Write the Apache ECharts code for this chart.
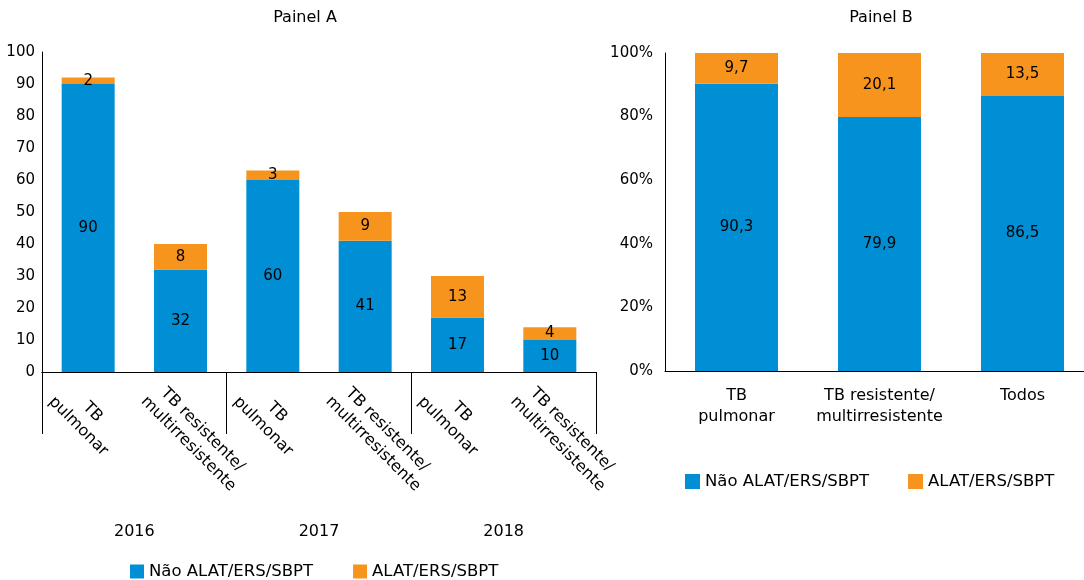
<!DOCTYPE html>
<html>
<head>
<meta charset="utf-8">
<script src="https://cdn.jsdelivr.net/npm/echarts@6/dist/echarts.min.js"></script>
<style>
html,body{margin:0;padding:0;background:#fff;overflow:hidden;}
#c{width:1100px;height:580px;}
</style>
</head>
<body>
<div id="c"></div>
<script>
// Panel A data
const catsA = ['TB\npulmonar', 'TB resistente/\nmultirresistente', 'TB\npulmonar', 'TB resistente/\nmultirresistente', 'TB\npulmonar', 'TB resistente/\nmultirresistente'];
const yearsA = ['2016', '2017', '2018'];
const naoA = [90, 32, 60, 41, 17, 10];
const alatA = [2, 8, 3, 9, 13, 4];
// Panel B data
const catsB = ['TB\npulmonar', 'TB resistente/\nmultirresistente', 'Todos'];
const naoB = [90.3, 79.9, 86.5];
const alatB = [9.7, 20.1, 13.5];

const NAME_NAO = 'Não ALAT/ERS/SBPT';
const NAME_ALAT = 'ALAT/ERS/SBPT';
const BLUE = '#008ED4';
const ORANGE = '#F7941E';
const FONT = 'DejaVu Sans';
const NUM = 15, TXT = 16, LEG = 16.5;
const axisLine = {show: true, lineStyle: {color: '#000', width: 1}};

// measure label lines so each line can be centred within its rotated block
const mctx = document.createElement('canvas').getContext('2d');
mctx.font = TXT + 'px "' + FONT + '"';
const richA = {};
const styleOf = {};
catsA.forEach(c => {
  const w = Math.ceil(Math.max(...c.split('\n').map(l => mctx.measureText(l).width)));
  const key = 'w' + w;
  styleOf[c] = key;
  richA[key] = {width: w, align: 'center', fontFamily: FONT, fontSize: TXT, color: '#000', lineHeight: 20};
});

const chart = echarts.init(document.getElementById('c'), null, {renderer: 'canvas'});
const labA = {show: true, position: 'inside', color: '#000', fontFamily: FONT, fontSize: NUM};
const labB = Object.assign({}, labA, {formatter: p => p.value.toFixed(1).replace('.', ',')});

chart.setOption({
  animation: false,
  color: [BLUE, ORANGE],
  textStyle: {fontFamily: FONT, color: '#000'},
  title: [
    {text: 'Painel A', left: 305, top: 10, padding: 0, textAlign: 'center', textStyle: {fontFamily: FONT, fontSize: TXT, fontWeight: 'normal', color: '#000'}},
    {text: 'Painel B', left: 881, top: 10, padding: 0, textAlign: 'center', textStyle: {fontFamily: FONT, fontSize: TXT, fontWeight: 'normal', color: '#000'}}
  ],
  legend: [
    {left: 130, top: 563, padding: 0, icon: 'rect', itemWidth: 14, itemHeight: 14, itemGap: 40,
     textStyle: {fontFamily: FONT, fontSize: LEG, color: '#000'}, data: [NAME_NAO, NAME_ALAT], selectedMode: false},
    {left: 685, top: 473, padding: 0, icon: 'rect', itemWidth: 15, itemHeight: 15, itemGap: 39,
     textStyle: {fontFamily: FONT, fontSize: LEG, color: '#000'}, data: [NAME_NAO, NAME_ALAT], selectedMode: false}
  ],
  grid: [
    {left: 42, top: 52, width: 554, height: 320},
    {left: 665, top: 53, width: 429, height: 318},
    {left: 12, top: 52, width: 554, height: 320}
  ],
  xAxis: [
    {type: 'category', gridIndex: 0, data: catsA, axisLine: axisLine, axisTick: {show: false}, axisLabel: {show: false}},
    {type: 'category', gridIndex: 0, data: yearsA, position: 'bottom', axisLine: axisLine,
     axisTick: {show: true, length: 62, lineStyle: {color: '#000'}},
     axisLabel: {margin: 152, fontFamily: FONT, fontSize: TXT, color: '#000'}},
    {type: 'category', gridIndex: 1, data: catsB, axisLine: axisLine, axisTick: {show: false},
     axisLabel: {interval: 0, margin: 14, fontFamily: FONT, fontSize: TXT, color: '#000', lineHeight: 21}},
    {type: 'category', gridIndex: 2, data: catsA, axisLine: {show: false}, axisTick: {show: false},
     axisLabel: {interval: 0, rotate: -45, margin: 20, rich: richA,
       formatter: v => v.split('\n').map(l => '{' + styleOf[v] + '|' + l + '}').join('\n')}}
  ],
  yAxis: [
    {type: 'value', gridIndex: 0, min: 0, max: 100, interval: 10, axisLine: axisLine, axisTick: {show: false},
     splitLine: {show: false}, axisLabel: {margin: 7, fontFamily: FONT, fontSize: NUM, color: '#000'}},
    {type: 'value', gridIndex: 1, min: 0, max: 100, interval: 20, axisLine: axisLine, axisTick: {show: false},
     splitLine: {show: false}, axisLabel: {margin: 12, fontFamily: FONT, fontSize: NUM, color: '#000', formatter: '{value}%'}},
    {type: 'value', gridIndex: 2, min: 0, max: 100, show: false}
  ],
  series: [
    {name: NAME_NAO, type: 'bar', stack: 'A', xAxisIndex: 0, yAxisIndex: 0, barWidth: 53, data: naoA, label: labA, itemStyle: {color: BLUE}},
    {name: NAME_ALAT, type: 'bar', stack: 'A', xAxisIndex: 0, yAxisIndex: 0, barWidth: 53, data: alatA, label: labA, itemStyle: {color: ORANGE}},
    {name: NAME_NAO, type: 'bar', stack: 'B', xAxisIndex: 2, yAxisIndex: 1, barWidth: 83, data: naoB, label: labB, itemStyle: {color: BLUE}},
    {name: NAME_ALAT, type: 'bar', stack: 'B', xAxisIndex: 2, yAxisIndex: 1, barWidth: 83, data: alatB, label: labB, itemStyle: {color: ORANGE}}
  ]
});
</script>
</body>
</html>
